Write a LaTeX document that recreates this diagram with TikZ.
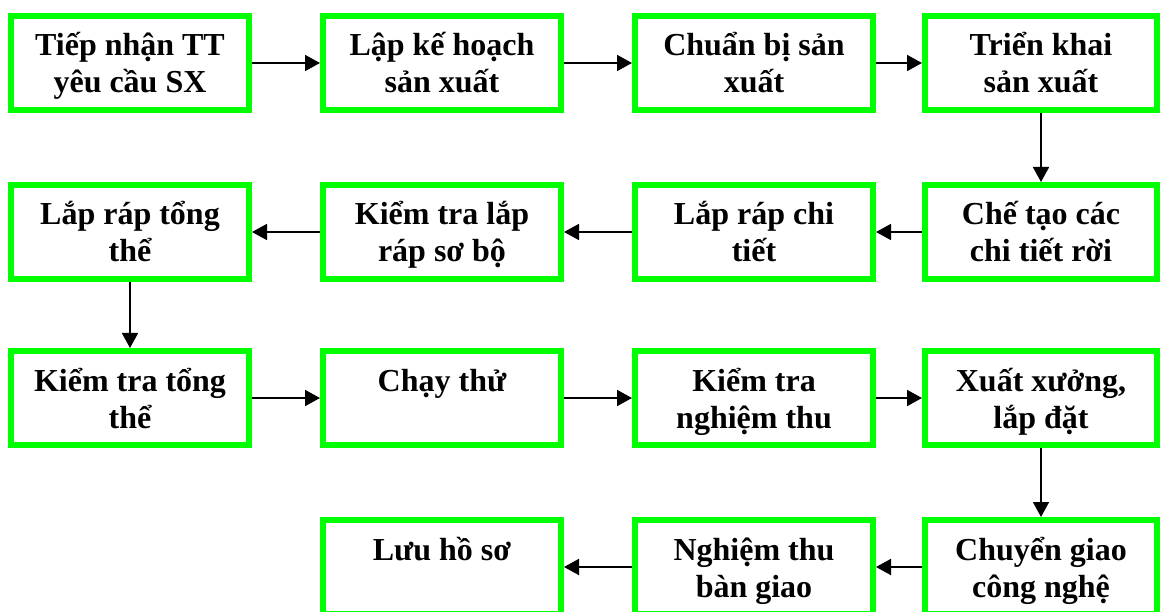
\documentclass[tikz,border=0pt]{standalone}
\usepackage{fontspec}
\setmainfont{Liberation Serif}
\usetikzlibrary{arrows.meta}
\definecolor{boxgreen}{RGB}{0,255,0}
% box body: fixed-size parbox, text hung from the top edge
\newcommand\boxbody[2][238]{\parbox[c][94pt][t]{#1pt}{\centering\rule{0pt}{40pt}#2}}
\tikzset{
  stepbox/.style={draw=boxgreen, line width=6pt, inner sep=0pt,
    font=\fontsize{32}{37}\selectfont\bfseries},
  flow/.style={line width=1.8pt, -{Triangle[length=15pt,width=16pt]}}
}
\begin{document}
\begin{tikzpicture}[x=1pt,y=-1pt]
\useasboundingbox (0,0) rectangle (1162,612);
% row 1
\node[stepbox] (n1) at (130,63) {\boxbody{Tiếp nhận TT\\yêu cầu SX}};
\node[stepbox] (n2) at (442,63) {\boxbody{Lập kế hoạch\\sản xuất}};
\node[stepbox] (n3) at (754,63) {\boxbody{Chuẩn bị sản\\xuất}};
\node[stepbox] (n4) at (1041,63) {\boxbody[232]{Triển khai\\sản xuất}};
% row 2
\node[stepbox] (n5) at (1041,232) {\boxbody[232]{Chế tạo các\\chi tiết rời}};
\node[stepbox] (n6) at (754,232) {\boxbody{Lắp ráp chi\\tiết}};
\node[stepbox] (n7) at (442,232) {\boxbody{Kiểm tra lắp\\ráp sơ bộ}};
\node[stepbox] (n8) at (130,232) {\boxbody{Lắp ráp tổng\\thể}};
% row 3
\node[stepbox] (n9) at (130,398) {\boxbody{Kiểm tra tổng\\thể}};
\node[stepbox] (n10) at (442,398) {\boxbody{Chạy thử}};
\node[stepbox] (n11) at (754,398) {\boxbody{Kiểm tra\\nghiệm thu}};
\node[stepbox] (n12) at (1041,398) {\boxbody[232]{Xuất xưởng,\\lắp đặt}};
% row 4
\node[stepbox] (n13) at (1041,567) {\boxbody[232]{Chuyển giao\\công nghệ}};
\node[stepbox] (n14) at (754,567) {\boxbody{Nghiệm thu\\bàn giao}};
\node[stepbox] (n15) at (442,567) {\boxbody{Lưu hồ sơ}};
% connectors
\draw[flow] (n1) -- (n2);
\draw[flow] (n2) -- (n3);
\draw[flow] (n3) -- (n4);
\draw[flow] (n4.south) -- (n5.north);
\draw[flow] (n5) -- (n6);
\draw[flow] (n6) -- (n7);
\draw[flow] (n7) -- (n8);
\draw[flow] (n8.south) -- (n9.north);
\draw[flow] (n9) -- (n10);
\draw[flow] (n10) -- (n11);
\draw[flow] (n11) -- (n12);
\draw[flow] (n12.south) -- (n13.north);
\draw[flow] (n13) -- (n14);
\draw[flow] (n14) -- (n15);
\end{tikzpicture}
\end{document}
